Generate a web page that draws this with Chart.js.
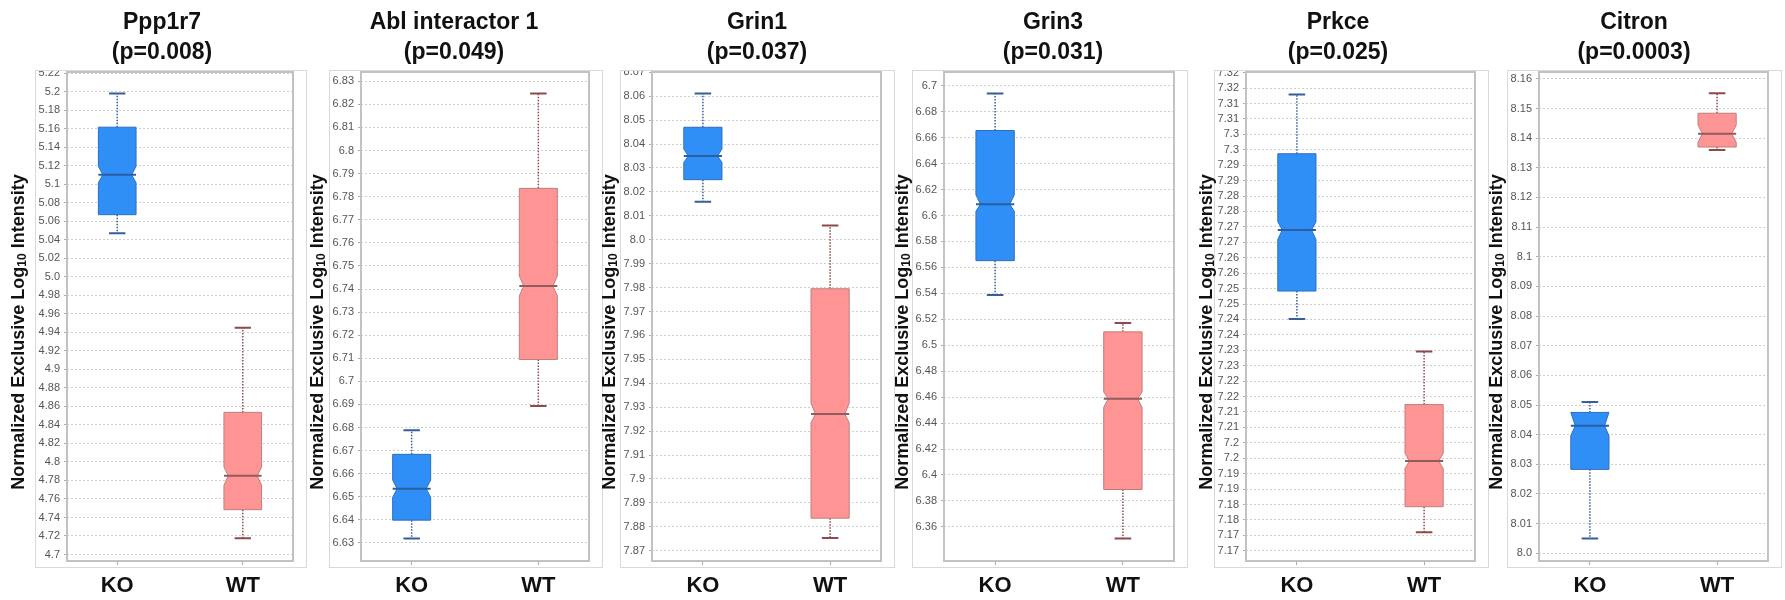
<!DOCTYPE html>
<html>
<head>
<meta charset="utf-8">
<script src="https://cdn.jsdelivr.net/npm/chart.js@4.4.1/dist/chart.umd.min.js"></script>
<style>
    body { margin: 0; background: #fff; }
    #wrap { position: relative; width: 1785px; height: 600px; }
    #wrap canvas { position: absolute; left: 0; top: 0; }
</style>
</head>
<body>
<div id="wrap"></div>
<script>
// ---- data ----
const genes = ['Ppp1r7', 'Abl interactor 1', 'Grin1', 'Grin3', 'Prkce', 'Citron'];
const pValues = ['0.008', '0.049', '0.037', '0.031', '0.025', '0.0003'];
const groups = ['KO', 'WT'];

const koMin       = [5.047, 6.6319, 8.0159, 6.5387, 7.2401, 8.005];
const koQ1        = [5.067, 6.6399, 8.0251, 6.5652, 7.2492, 8.0283];
const koMedian    = [5.110, 6.6535, 8.0350, 6.6086, 7.2690, 8.0430];
const koQ3        = [5.1615, 6.6684, 8.0470, 6.6655, 7.2937, 8.0475];
const koMax       = [5.198, 6.6788, 8.0611, 6.6941, 7.3129, 8.0510];
const koNotchLow  = [5.1016, 6.6498, 8.0323, 6.6033, 7.2659, 8.0397];
const koNotchHigh = [5.1193, 6.6573, 8.0379, 6.6159, 7.2717, 8.0475];

const wtMin       = [4.7175, 6.6893, 7.8753, 6.3510, 7.1710, 8.1360];
const wtQ1        = [4.7484, 6.7095, 7.8836, 6.3888, 7.1793, 8.1370];
const wtMedian    = [4.7850, 6.7413, 7.9271, 6.4587, 7.1941, 8.1415];
const wtQ3        = [4.8535, 6.7836, 7.9795, 6.5103, 7.2124, 8.1484];
const wtMax       = [4.9450, 6.8247, 8.0059, 6.5171, 7.2296, 8.1551];
const wtNotchLow  = [4.7748, 6.7371, 7.9236, 6.4522, 7.1917, 8.1386];
const wtNotchHigh = [4.7946, 6.7456, 7.9316, 6.4640, 7.1966, 8.1444];

const yMin = [4.693, 6.6222, 7.8657, 6.3337, 7.1617, 7.9974];
const yMax = [5.2211, 6.834, 8.0701, 6.7106, 7.3202, 8.1623];

const tickStart = [4.7, 6.63, 7.87, 6.36, 7.165, 8.0];
const tickStep = [0.02, 0.01, 0.01, 0.02, 0.005, 0.01];
const tickLabels = [
    ['4.7', '4.72', '4.74', '4.76', '4.78', '4.8', '4.82', '4.84', '4.86', '4.88', '4.9', '4.92', '4.94', '4.96',
        '4.98', '5.0', '5.02', '5.04', '5.06', '5.08', '5.1', '5.12', '5.14', '5.16', '5.18', '5.2', '5.22'],
    ['6.63', '6.64', '6.65', '6.66', '6.67', '6.68', '6.69', '6.7', '6.71', '6.72', '6.73', '6.74', '6.75', '6.76',
        '6.77', '6.78', '6.79', '6.8', '6.81', '6.82', '6.83'],
    ['7.87', '7.88', '7.89', '7.9', '7.91', '7.92', '7.93', '7.94', '7.95', '7.96', '7.97', '7.98', '7.99', '8.0',
        '8.01', '8.02', '8.03', '8.04', '8.05', '8.06', '8.07'],
    ['6.36', '6.38', '6.4', '6.42', '6.44', '6.46', '6.48', '6.5', '6.52', '6.54', '6.56', '6.58', '6.6', '6.62',
        '6.64', '6.66', '6.68', '6.7'],
    ['7.17', '7.17', '7.18', '7.18', '7.19', '7.19', '7.2', '7.2', '7.21', '7.21', '7.22', '7.22', '7.23', '7.23',
        '7.24', '7.24', '7.25', '7.25', '7.26', '7.26', '7.27', '7.27', '7.28', '7.28', '7.29', '7.29', '7.3', '7.3',
        '7.31', '7.31', '7.32', '7.32'],
    ['8.0', '8.01', '8.02', '8.03', '8.04', '8.05', '8.06', '8.07', '8.08', '8.09', '8.1', '8.11', '8.12', '8.13',
        '8.14', '8.15', '8.16']
];

// ---- layout (px) ----
const plotLeft = [67, 361, 652, 944, 1246, 1539];
const plotRight = [293, 589, 881, 1174, 1475, 1768];
const titleX = [162, 454, 757, 1053, 1338, 1634];
const axisTitleX = [19, 318, 610, 903, 1207, 1497];
const PLOT_TOP = 72;
const PLOT_BOTTOM = 561;
const AXIS_W = 60;
const FONT = "'Liberation Sans', Arial, sans-serif";

const koStyle = {fill: '#2f8ff7', border: '#2a6fc0', whisker: '#355f96', median: '#2b5f9e'};
const wtStyle = {fill: '#ff9494', border: '#c07d7d', whisker: '#8e4a4a', median: '#8f5d5d'};

const boxPlot = {
    id: 'boxPlot',
    afterDatasetsDraw(chart) {
        const {ctx, scales: {x, y}} = chart;
        chart.data.datasets.forEach((ds, k) => {
            const s = ds.stats;
            const st = ds.style;
            const cx = x.getPixelForValue(k);
            const hw = x.getPixelForValue(k + 0.15) - cx;
            const nw = x.getPixelForValue(k + 0.115) - cx;
            const cw = x.getPixelForValue(k + 0.065) - cx;
            const py = v => y.getPixelForValue(v);
            const nHi = Math.min(s.notchHigh, s.q3);
            const nLo = Math.max(s.notchLow, s.q1);

            ctx.save();
            // whiskers
            ctx.strokeStyle = st.whisker;
            ctx.lineWidth = 1.5;
            ctx.setLineDash([1.5, 1.5]);
            ctx.beginPath();
            ctx.moveTo(cx, py(s.q3));
            ctx.lineTo(cx, py(s.max));
            ctx.moveTo(cx, py(s.q1));
            ctx.lineTo(cx, py(s.min));
            ctx.stroke();
            ctx.setLineDash([]);
            ctx.lineWidth = 2;
            ctx.beginPath();
            ctx.moveTo(cx - cw, py(s.max));
            ctx.lineTo(cx + cw, py(s.max));
            ctx.moveTo(cx - cw, py(s.min));
            ctx.lineTo(cx + cw, py(s.min));
            ctx.stroke();

            // notched box
            ctx.beginPath();
            ctx.moveTo(cx - hw, py(s.q3));
            ctx.lineTo(cx + hw, py(s.q3));
            ctx.lineTo(cx + hw, py(nHi));
            ctx.lineTo(cx + nw, py(s.median));
            ctx.lineTo(cx + hw, py(nLo));
            ctx.lineTo(cx + hw, py(s.q1));
            ctx.lineTo(cx - hw, py(s.q1));
            ctx.lineTo(cx - hw, py(nLo));
            ctx.lineTo(cx - nw, py(s.median));
            ctx.lineTo(cx - hw, py(nHi));
            ctx.closePath();
            ctx.fillStyle = st.fill;
            ctx.fill();
            ctx.strokeStyle = st.border;
            ctx.lineWidth = 1;
            ctx.stroke();

            // median
            ctx.strokeStyle = st.median;
            ctx.lineWidth = 2;
            ctx.beginPath();
            ctx.moveTo(cx - hw, py(s.median));
            ctx.lineTo(cx + hw, py(s.median));
            ctx.stroke();
            ctx.restore();
        });
    }
};

const panelDecor = {
    id: 'panelDecor',
    afterDraw(chart, args, opts) {
        const {ctx, chartArea: a} = chart;
        ctx.save();
        // hide the top half of a tick label sitting on the frame
        ctx.fillStyle = '#fff';
        ctx.fillRect(a.left - 40, a.top - 10, 39, 9);
        // outer frame
        ctx.strokeStyle = '#d9d9d9';
        ctx.lineWidth = 1;
        ctx.strokeRect(a.left - 31.5, a.top - 1.5, a.right - a.left + 45, a.bottom - a.top + 8);
        // plot border
        ctx.strokeStyle = '#c2c2c2';
        ctx.lineWidth = 2;
        ctx.strokeRect(a.left, a.top, a.right - a.left, a.bottom - a.top);

        // title
        ctx.fillStyle = '#111';
        ctx.textAlign = 'center';
        ctx.textBaseline = 'alphabetic';
        ctx.font = 'bold 23px ' + FONT;
        ctx.fillText(opts.gene, opts.titleX, 28.5);
        ctx.fillText('(p=' + opts.p + ')', opts.titleX, 58.5);

        // y axis title with subscript
        const parts = [['Normalized Exclusive Log', 18, 0], ['10', 12, 4], [' Intensity', 18, 0]];
        let total = 0;
        parts.forEach(p => {
            ctx.font = 'bold ' + p[1] + 'px ' + FONT;
            p.push(ctx.measureText(p[0]).width);
            total += p[3];
        });
        ctx.translate(opts.axisX, (a.top + a.bottom) / 2 + 15.5);
        ctx.rotate(-Math.PI / 2);
        ctx.textAlign = 'left';
        ctx.textBaseline = 'middle';
        let pos = -total / 2;
        parts.forEach(p => {
            ctx.font = 'bold ' + p[1] + 'px ' + FONT;
            ctx.fillText(p[0], pos, p[2]);
            pos += p[3];
        });
        ctx.restore();
    }
};

const wrap = document.getElementById('wrap');

genes.forEach((gene, i) => {
    const canvas = document.createElement('canvas');
    canvas.width = 1785;
    canvas.height = 600;
    wrap.appendChild(canvas);

    new Chart(canvas, {
        type: 'scatter',
        data: {
            datasets: [
                {
                    label: groups[0],
                    data: [{x: 0, y: koMedian[i]}],
                    pointRadius: 0,
                    style: koStyle,
                    stats: {min: koMin[i], q1: koQ1[i], median: koMedian[i], q3: koQ3[i], max: koMax[i],
                        notchLow: koNotchLow[i], notchHigh: koNotchHigh[i]}
                },
                {
                    label: groups[1],
                    data: [{x: 1, y: wtMedian[i]}],
                    pointRadius: 0,
                    style: wtStyle,
                    stats: {min: wtMin[i], q1: wtQ1[i], median: wtMedian[i], q3: wtQ3[i], max: wtMax[i],
                        notchLow: wtNotchLow[i], notchHigh: wtNotchHigh[i]}
                }
            ]
        },
        options: {
            responsive: false,
            animation: false,
            events: [],
            layout: {
                padding: {left: plotLeft[i] - AXIS_W, right: 1785 - plotRight[i], top: PLOT_TOP, bottom: 0}
            },
            plugins: {
                legend: {display: false},
                tooltip: {enabled: false},
                panelDecor: {gene: gene, p: pValues[i], titleX: titleX[i], axisX: axisTitleX[i]}
            },
            scales: {
                x: {
                    type: 'linear',
                    min: -0.4,
                    max: 1.4,
                    afterBuildTicks: scale => {
                        scale.ticks = groups.map((g, j) => ({value: j}));
                    },
                    afterFit: scale => {
                        scale.height = 600 - PLOT_BOTTOM;
                    },
                    ticks: {
                        callback: v => groups[v],
                        autoSkip: false,
                        maxRotation: 0,
                        padding: 8,
                        color: '#111',
                        font: {family: FONT, size: 22, weight: 'bold'}
                    },
                    grid: {drawOnChartArea: false, drawTicks: true, tickLength: 4, color: '#aaa'},
                    border: {display: false}
                },
                y: {
                    min: yMin[i],
                    max: yMax[i],
                    afterBuildTicks: scale => {
                        scale.ticks = tickLabels[i].map((t, j) => ({value: tickStart[i] + j * tickStep[i]}));
                    },
                    afterFit: scale => {
                        scale.width = AXIS_W;
                    },
                    ticks: {
                        callback: (v, j) => tickLabels[i][j],
                        autoSkip: false,
                        padding: 4,
                        color: '#555',
                        font: {family: FONT, size: 11}
                    },
                    grid: {color: '#cfcfcf', lineWidth: 1, tickLength: 3, tickColor: '#aaa'},
                    border: {display: false, dash: [2, 2]}
                }
            }
        },
        plugins: [boxPlot, panelDecor]
    });
});
</script>
</body>
</html>
